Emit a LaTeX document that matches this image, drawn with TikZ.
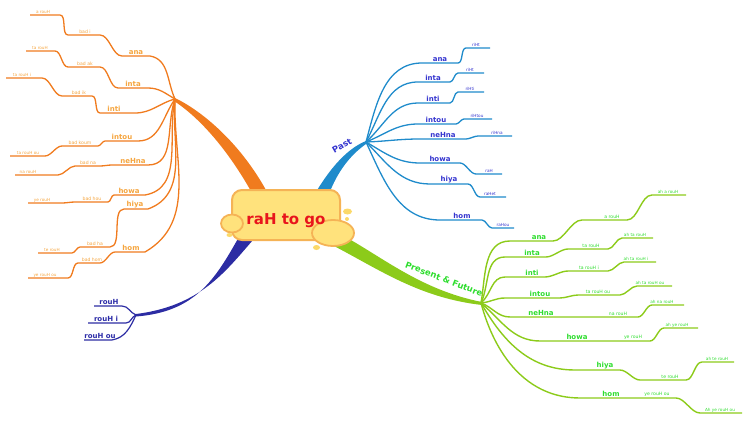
\documentclass[tikz,border=0pt]{standalone}
\usepackage{fontspec}
\setmainfont{DejaVu Sans}
\definecolor{orL}{HTML}{F07B1E}
\definecolor{orT}{HTML}{F5A53F}
\definecolor{blL}{HTML}{1F8BCB}
\definecolor{blT}{HTML}{3535CF}
\definecolor{grL}{HTML}{8CCB1A}
\definecolor{grT}{HTML}{2FDD2F}
\definecolor{nvL}{HTML}{2C2CA3}
\definecolor{nvT}{HTML}{2C2CA8}
\definecolor{ctrF}{HTML}{FFE27C}
\definecolor{ctrD}{HTML}{F5B356}
\definecolor{ctrT}{HTML}{E8141C}
\definecolor{dotc}{HTML}{FBD96A}
\begin{document}
\begin{tikzpicture}[x=1pt,y=-1pt,
  lab/.style={anchor=south,inner sep=0.3pt,font=\bfseries\fontsize{7}{8}\selectfont},
  sml/.style={anchor=south,inner sep=0.3pt,font=\fontsize{4.6}{5}\selectfont},
  tny/.style={anchor=south,inner sep=0.3pt,font=\fontsize{4.2}{5}\selectfont},
  oline/.style={draw=orL,line width=1.3pt},
  bline/.style={draw=blL,line width=1.3pt},
  gline/.style={draw=grL,line width=1.4pt},
  nline/.style={draw=nvL,line width=1.2pt},
  mainlab/.style={font=\bfseries\fontsize{8.5}{10}\selectfont,inner sep=0.5pt}]
\useasboundingbox (0,0) rectangle (750,428);

% hubs
\coordinate (ohub) at (175,99);
\coordinate (bhub) at (366,142);
\coordinate (ghub) at (481,303);
\coordinate (nhub) at (136,315);

% thick main branches
\fill[orL] (175,98) .. controls (200,110) and (238,140) .. (266,190) -- (252,193) .. controls (228,150) and (200,118) .. (174,101) -- cycle;
\fill[blL] (366,141) .. controls (351,147) and (334,162) .. (316,192) -- (329,194) .. controls (337,173) and (349,156) .. (366,144) -- cycle;
\fill[grL] (340,234) .. controls (380,255) and (420,290) .. (482,302) -- (482,305) .. controls (420,298) and (380,270) .. (334,246) -- cycle;
\fill[nvL] (253,240) .. controls (225,272) and (200,306) .. (136,314) -- (136,316.5) .. controls (195,312) and (215,280) .. (240,235) -- cycle;

\node[mainlab,text=blT,rotate=30] (past) at (342,146) {Past};
\node[mainlab,text=grT,rotate=-21] (pf) at (444,279) {Present \& Future};

% orange branches (left)
\foreach \nm/\ang/\inn/\ya/\pa/\qa/\ta/\la/\yb/\pb/\qb/\tb/\lb/\yc/\pc/\qc/\tc/\lc in {
 1/115/-10/56/150/122/ana/136/35/100/68/bad i/85/15/60/30/a rouH/43,
 2/150/0/88/148/118/inta/133/67/100/68/bad ak/85/51/55/26/ta rouH/40,
 3/195/0/113/135/100/inti/114/96/92/62/bad ik/79/78/42/6/ta rouH i/22,
 4/235/0/141/138/105/intou/122/146/98/62/bad koum/80/156/45/10/ta rouH ou/28,
 5/250/0/165/148/112/neHna/133/166/100/75/bad na/88/175/58/15/na rouH/28,
 6/258/10/195/145/114/howa/129/202/108/75/bad hou/92/203/62/28/ye rouH/42,
 7/265/20/209/148/124/hiya/135/247/110/80/bad ha/95/253/72/38/te rouH/52,
 8/268/30/252/145/115/hom/131/263/100/78/bad hom/92/278/68/28/ye rouH ou/45}{
 \coordinate (o\nm a) at (\pa,\ya);
 \coordinate (o\nm b) at (\qa,\ya);
 \coordinate (o\nm c) at (\pb,\yb);
 \coordinate (o\nm d) at (\qb,\yb);
 \coordinate (o\nm e) at (\pc,\yc);
 \coordinate (o\nm f) at (\qc,\yc);
 \draw[oline] (ohub) to[out=\ang,in=\inn] (o\nm a) -- (o\nm b)
   to[out=180,in=0,looseness=.8] (o\nm c) -- (o\nm d)
   to[out=180,in=0,looseness=.8] (o\nm e) -- (o\nm f);
 \node[lab,text=orT] (o\nm L1) at (\la,\ya-0.8) {\ta};
 \node[sml,text=orT] (o\nm L2) at (\lb,\yb-0.6) {\tb};
 \node[tny,text=orT] (o\nm L3) at (\lc,\yc-0.6) {\tc};
}

% blue branches (Past)
\foreach \nm/\ang/\ya/\pa/\qa/\ta/\la/\yb/\pb/\qb/\tb/\lb in {
 1/75/63/422/458/ana/440/48/466/490/riHt/476,
 2/62/82/418/450/inta/433/73/458/484/riHt/470,
 3/42/103/418/450/inti/433/92/458/484/riHti/470,
 4/22/124/418/456/intou/436/119/464/492/riHtou/477,
 5/2/139/420/466/neHna/443/136/478/512/riHna/497,
 6/-30/163/420/460/howa/440/174/476/502/raH/489,
 7/-45/184/430/468/hiya/449/197/480/506/raHet/490,
 8/-65/220/440/482/hom/462/228/492/514/raHou/503}{
 \coordinate (b\nm a) at (\pa,\ya);
 \coordinate (b\nm b) at (\qa,\ya);
 \coordinate (b\nm c) at (\pb,\yb);
 \coordinate (b\nm d) at (\qb,\yb);
 \draw[bline] (bhub) to[out=\ang,in=180] (b\nm a) -- (b\nm b)
   to[out=0,in=180,looseness=.8] (b\nm c) -- (b\nm d);
 \node[lab,text=blT] (b\nm L1) at (\la,\ya-0.8) {\ta};
 \node[tny,text=blT] (b\nm L2) at (\lb,\yb-0.6) {\tb};
}

% green branches (Present & Future)
\foreach \nm/\ang/\ya/\pa/\qa/\ta/\la/\yb/\pb/\qb/\tb/\lb/\yc/\pc/\qc/\tc/\lc in {
 1/80/241/510/553/ana/539/220/582/627/a rouH/612/195/652/686/ah a rouH/668,
 2/65/257/505/546/inta/532/249/568/608/ta rouH/591/238/622/653/ah ta rouH/635,
 3/40/277/505/545/inti/532/271/568/608/ta rouH i/589/262/624/656/ah ta rouH i/636,
 4/5/298/505/560/intou/540/295/578/620/ta rouH ou/598/286/637/672/ah ta rouH ou/650,
 5/-20/317/510/595/neHna/541/317/600/638/na rouH/618/305/652/684/ah na rouH/662,
 6/-40/341/540/610/howa/577/341/612/650/ye rouH/633/328/664/698/ah ye rouH/677,
 7/-60/370/575/620/hiya/605/380/640/686/te rouH/670/362/702/734/ah te rouH/717,
 8/-75/398/580/636/hom/611/398/638/676/ye rouH ou/657/413/700/742/Ah ye rouH ou/720}{
 \coordinate (g\nm a) at (\pa,\ya);
 \coordinate (g\nm b) at (\qa,\ya);
 \coordinate (g\nm c) at (\pb,\yb);
 \coordinate (g\nm d) at (\qb,\yb);
 \coordinate (g\nm e) at (\pc,\yc);
 \coordinate (g\nm f) at (\qc,\yc);
 \draw[gline] (ghub) to[out=\ang,in=180] (g\nm a) -- (g\nm b)
   to[out=0,in=180,looseness=.8] (g\nm c) -- (g\nm d)
   to[out=0,in=180,looseness=.8] (g\nm e) -- (g\nm f);
 \node[lab,text=grT] (g\nm L1) at (\la,\ya-0.8) {\ta};
 \node[sml,text=grT] (g\nm L2) at (\lb,\yb-0.6) {\tb};
 \node[tny,text=grT] (g\nm L3) at (\lc,\yc-0.6) {\tc};
}

% navy branches
\foreach \nm/\ang/\inn/\ya/\pa/\qa/\ta/\la in {
 1/160/0/306/122/94/rouH/109,
 2/200/0/323/126/88/rouH i/106,
 3/245/10/340/112/84/rouH ou/100}{
 \coordinate (n\nm a) at (\pa,\ya);
 \coordinate (n\nm b) at (\qa,\ya);
 \draw[nline] (nhub) to[out=\ang,in=\inn] (n\nm a) -- (n\nm b);
 \node[lab,text=nvT] (n\nm L1) at (\la,\ya-0.8) {\ta};
}

% central topic
\node[draw=ctrD,fill=ctrF,line width=2pt,rounded corners=10pt,minimum width=108pt,minimum height=50pt,inner sep=0pt] (box) at (286,215) {};
\draw[ctrD,fill=ctrF,line width=1.8pt] (232,223.5) ellipse (11pt and 9pt);
\draw[ctrD,fill=ctrF,line width=1.8pt] (333,233) ellipse (21pt and 13pt);
\fill[dotc] (347.5,211.5) ellipse (4.5pt and 3pt);
\fill[dotc] (347,219) circle (2pt);
\fill[dotc] (316.5,247.5) ellipse (3.5pt and 2.5pt);
\fill[dotc] (229.5,235) ellipse (3pt and 2pt);
\node[font=\bfseries\fontsize{15}{16}\selectfont,text=ctrT,inner sep=0pt] (title) at (286,221) {raH to go};
\end{tikzpicture}
\end{document}
